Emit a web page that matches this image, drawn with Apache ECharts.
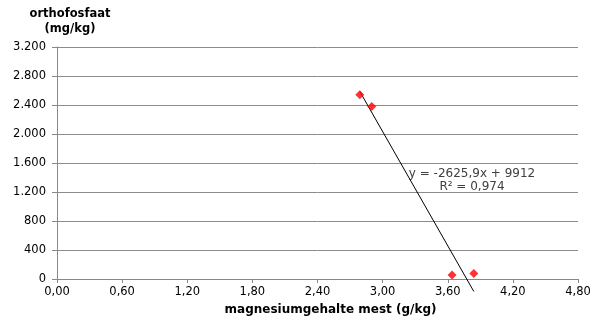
<!DOCTYPE html>
<html>
<head>
<meta charset="utf-8">
<script src="https://cdn.jsdelivr.net/npm/echarts@6/dist/echarts.min.js"></script>
<style>
  html, body { margin: 0; padding: 0; background: #fff; }
  #chart { width: 598px; height: 320px; }
</style>
</head>
<body>
<div id="chart"></div>
<script>
// meetpunten
var magnesium = [2.79, 2.90, 3.64, 3.84];
var orthofosfaat = [2540, 2380, 55, 75];
// trendlijn uit Excel
var slope = -2625.9;
var intercept = 9912;
var r2 = 0.974;

function nl(v, d) {
    return v.toFixed(d).replace('.', ',');
}
function thousands(v) {
    return String(Math.round(v)).replace(/\B(?=(\d{3})+(?!\d))/g, '.');
}

var points = [];
for (var i = 0; i < magnesium.length; i++) {
    points.push([magnesium[i], orthofosfaat[i]]);
}
var xMin = Math.min.apply(null, magnesium);
var xMax = Math.max.apply(null, magnesium);
var trend = [[xMin, slope * xMin + intercept], [xMax, slope * xMax + intercept]];

var font = 'DejaVu Sans, Verdana, sans-serif';
var myChart = echarts.init(document.getElementById('chart'));
var option = {
    animation: false,
    grid: { left: 57, right: 20, top: 47, bottom: 41, outerBoundsMode: 'none', containLabel: false },
    xAxis: {
        type: 'value',
        min: 0, max: 4.8, interval: 0.6,
        name: 'magnesiumgehalte mest (g/kg)',
        nameLocation: 'middle',
        nameGap: 25,
        nameTextStyle: { fontFamily: font, fontSize: 12, fontWeight: 'bold', color: '#000', padding: [0, 0, 0, 26] },
        axisLine: { lineStyle: { color: '#888' } },
        axisTick: { show: true, length: 4, lineStyle: { color: '#888' } },
        splitLine: { show: false },
        axisLabel: {
            fontFamily: font, fontSize: 11.5, color: '#000', margin: 7,
            formatter: function (v) { return nl(v, 2); }
        }
    },
    yAxis: {
        type: 'value',
        min: 0, max: 3200, interval: 400,
        axisLine: { show: true, lineStyle: { color: '#888' } },
        axisTick: { show: true, length: 5, lineStyle: { color: '#888' } },
        splitLine: { show: true, lineStyle: { color: '#8c8c8c', width: 1 } },
        axisLabel: {
            fontFamily: font, fontSize: 11.5, color: '#000', margin: 11,
            formatter: function (v) { return thousands(v); }
        }
    },
    series: [
        {
            name: 'trendlijn',
            type: 'line',
            data: trend,
            symbol: 'none',
            clip: false,
            lineStyle: { color: '#000', width: 1 },
            z: 3
        },
        {
            name: 'orthofosfaat',
            type: 'scatter',
            data: points,
            symbol: 'diamond',
            symbolSize: 9,
            itemStyle: { color: '#ff0000' },
            z: 4
        }
    ],
    graphic: [
        {
            type: 'text', x: 70, y: 8,
            style: { text: 'orthofosfaat', font: 'bold 11.5px ' + font, fill: '#000', textAlign: 'center' }
        },
        {
            type: 'text', x: 70, y: 23,
            style: { text: '(mg/kg)', font: 'bold 11.5px ' + font, fill: '#000', textAlign: 'center' }
        },
        {
            type: 'text', x: 472, y: 168,
            style: { text: 'y = -2625,9x + 9912', font: '12px ' + font, fill: '#404040', textAlign: 'center' }
        },
        {
            type: 'text', x: 472, y: 181,
            style: { text: 'R² = ' + nl(r2, 3), font: '12px ' + font, fill: '#404040', textAlign: 'center' }
        }
    ]
};
myChart.setOption(option);
</script>
</body>
</html>
